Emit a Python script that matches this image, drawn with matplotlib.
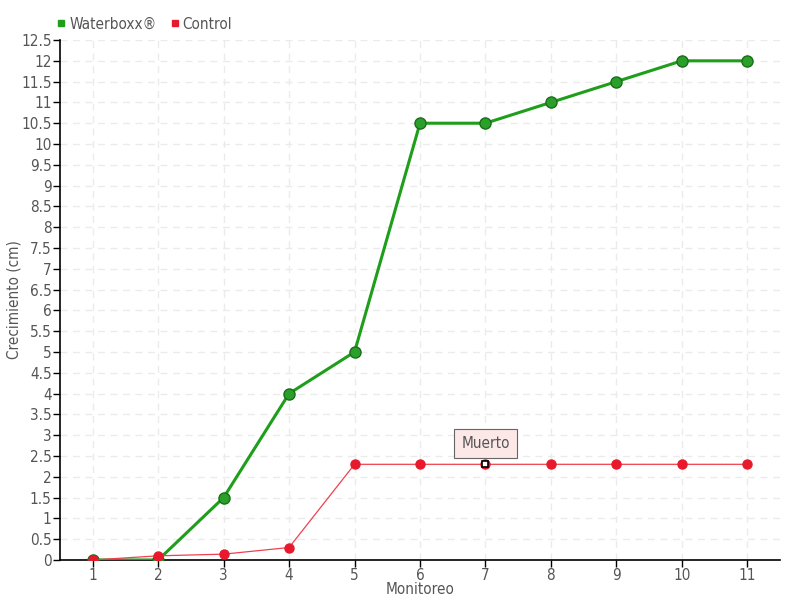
import matplotlib
matplotlib.use('Agg')
import matplotlib.pyplot as plt
from matplotlib.lines import Line2D
import numpy as np

plt.rcParams['font.family'] = ['DejaVu Sans']
plt.rcParams['font.stretch'] = 'condensed'

# datos
monitoreo = [1, 2, 3, 4, 5, 6, 7, 8, 9, 10, 11]
waterboxx = [0, 0, 1.5, 4, 5, 10.5, 10.5, 11, 11.5, 12, 12]
control = [0, 0.1, 0.14, 0.3, 2.3, 2.3, 2.3, 2.3, 2.3, 2.3, 2.3]
punto_muerto = 7  # monitoreo donde aparece "Muerto"

txt = '#555555'
fig = plt.figure(figsize=(8, 6), dpi=100)
ax = fig.add_axes([0.075, 0.0667, 0.9, 0.8666])

ax.plot(monitoreo, waterboxx, color='#1e9e1a', lw=2.2, marker='o', ms=8,
        mfc='#2aa02a', mec='#1a6e1a', mew=1, zorder=3)
ax.plot(monitoreo, control, color='#f0404f', lw=0.9, marker='o', ms=6.5,
        mfc='#e8192c', mec='#e8192c', zorder=4)

# punto "Muerto"
i = monitoreo.index(punto_muerto)
ax.plot(monitoreo[i], control[i], marker='s', ms=5, mfc='white', mec='black',
        mew=1.2, zorder=5)
ax.annotate('Muerto', xy=(monitoreo[i], control[i]), xytext=(0, 15),
            textcoords='offset points', ha='center', va='center', fontsize=11,
            color=txt,
            bbox=dict(boxstyle='square,pad=0.45', fc='#fde8e8', ec='#666666', lw=0.8),
            arrowprops=dict(arrowstyle='-', color='#666666', lw=0.8))

ax.set_xlim(0.5, 11.5)
ax.set_ylim(0, 12.5)
ax.set_xticks(monitoreo)
ax.set_yticks(np.arange(0, 12.51, 0.5))
ax.set_yticklabels([f'{v:g}' for v in np.arange(0, 12.51, 0.5)])
ax.tick_params(labelcolor=txt, labelsize=11, length=5, width=1, color='black')
ax.tick_params(axis='x', pad=1)
ax.tick_params(axis='y', pad=1)
ax.grid(True, ls=(0, (5, 4)), color='#ebebeb', lw=1)
ax.set_axisbelow(True)
for s in ['top', 'right']:
    ax.spines[s].set_visible(False)
ax.spines['left'].set_linewidth(1.2)
ax.spines['bottom'].set_linewidth(1.2)

ax.set_xlabel('Monitoreo', color=txt, fontsize=11, labelpad=-1)
ax.set_ylabel('Crecimiento (cm)', color=txt, fontsize=11, labelpad=0)

handles = [Line2D([], [], ls='', marker='s', ms=5, color='#1e9e1a'),
           Line2D([], [], ls='', marker='s', ms=5, color='#e8192c')]
fig.legend(handles, ['Waterboxx®', 'Control'], loc='upper left',
           bbox_to_anchor=(0.052, 0.995), ncol=2, frameon=False,
           handletextpad=0.1, columnspacing=0.8, handlelength=0.8,
           fontsize=11, labelcolor=txt)

fig.savefig('out.png', dpi=100)
